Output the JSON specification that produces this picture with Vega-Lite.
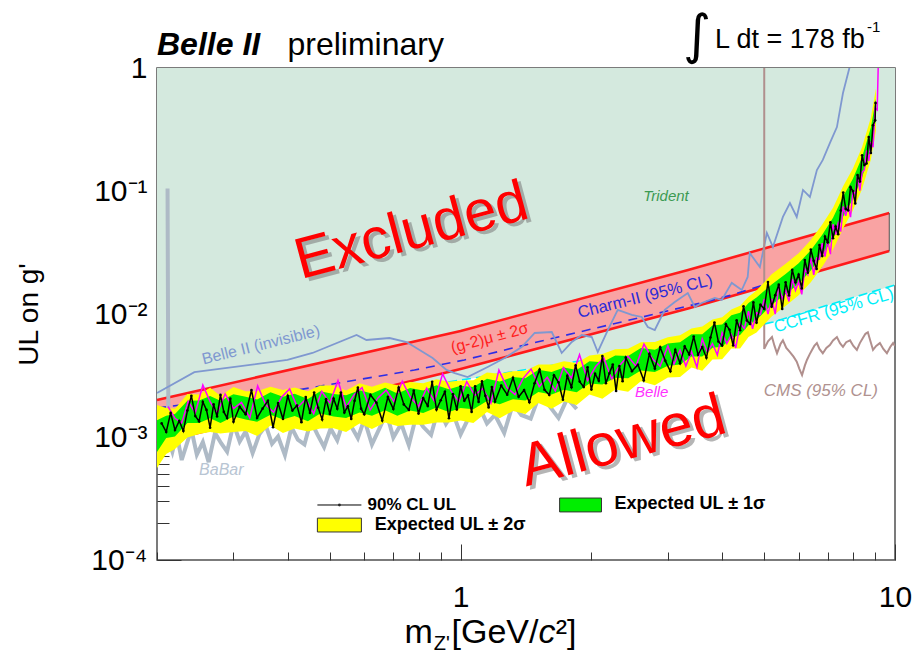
{
"$schema":"https://vega.github.io/schema/vega-lite/v6.json",
"width":738,"height":492,
"autosize":{"type":"none"},
"padding":{"left":157,"top":68,"right":27,"bottom":94},
"background":"#ffffff",
"config":{"view":{"stroke":"#505050","strokeWidth":1.5},"font":"Liberation Sans",
"axis":{"labelFont":"Liberation Sans","titleFont":"Liberation Sans","tickColor":"#333333","tickWidth":1,"labelColor":"#000000","titleColor":"#000000","domain":false,"grid":false,"labelOverlap":false,"labelBound":false},
"text":{"font":"Liberation Sans"}},
"data":{"values":[{}]},
"datasets":{
"ccfr":[{"m":0.2,"v":0.00132},{"m":0.27,"v":0.00146},{"m":0.5,"v":0.002},{"m":1,"v":0.0029},{"m":2,"v":0.0043},{"m":3.5,"v":0.0063},{"m":5.24,"v":0.0086},{"m":7,"v":0.0118},{"m":10,"v":0.0172}],
"charm":[{"m":0.2,"v":0.00172},{"m":0.421,"v":0.00241},{"m":0.783,"v":0.0035},{"m":1.02,"v":0.00423},{"m":1.5,"v":0.00592},{"m":2.56,"v":0.00927},{"m":3.65,"v":0.01253},{"m":4.21,"v":0.01427},{"m":7,"v":0.0252}],
"gm2":[{"m":0.2,"lo":0.000894,"hi":0.002},{"m":1.0,"lo":0.00357,"hi":0.00728},{"m":3.34,"lo":0.0111,"hi":0.0228},{"m":9.7,"lo":0.0325,"hi":0.0662}],
"b2inv":[{"m":0.2,"v":0.00228},{"m":0.2438,"v":0.00337},{"m":0.3993,"v":0.00423},{"m":0.456,"v":0.00482},{"m":0.576,"v":0.00675},{"m":0.607,"v":0.00615},{"m":0.686,"v":0.00638},{"m":0.751,"v":0.00592},{"m":0.862,"v":0.00439},{"m":0.928,"v":0.00351},{"m":0.969,"v":0.00331},{"m":1.038,"v":0.00307},{"m":1.154,"v":0.00371},{"m":1.263,"v":0.00439},{"m":1.382,"v":0.00539},{"m":1.481,"v":0.00701},{"m":1.621,"v":0.00714},{"m":1.709,"v":0.00482},{"m":1.803,"v":0.00592},{"m":1.9,"v":0.00675},{"m":2.004,"v":0.0065},{"m":2.069,"v":0.00491},{"m":2.182,"v":0.00741},{"m":2.3,"v":0.0108},{"m":2.478,"v":0.00982},{"m":2.612,"v":0.00946},{"m":2.697,"v":0.00784},{"m":2.799,"v":0.00741},{"m":2.951,"v":0.0108},{"m":3.112,"v":0.01253},{"m":3.334,"v":0.01482},{"m":3.459,"v":0.0114},{"m":3.591,"v":0.01228},{"m":3.847,"v":0.01349},{"m":3.992,"v":0.013},{"m":4.209,"v":0.0179},{"m":4.438,"v":0.01567},{"m":4.58,"v":0.02},{"m":4.63,"v":0.0313},{"m":4.886,"v":0.0241},{"m":5.07,"v":0.0456},{"m":5.235,"v":0.0351},{"m":5.52,"v":0.0615},{"m":5.73,"v":0.0798},{"m":5.94,"v":0.0615},{"m":6.14,"v":0.102},{"m":6.37,"v":0.0894},{"m":6.61,"v":0.148},{"m":6.82,"v":0.179},{"m":7.08,"v":0.245},{"m":7.35,"v":0.331},{"m":7.47,"v":0.456},{"m":7.59,"v":0.626},{"m":7.88,"v":1.05}],
"cms":[{"m":5.0,"v":1.0},{"m":5.0,"v":0.0052},{"m":5.1,"v":0.006},{"m":5.21,"v":0.0065},{"m":5.28,"v":0.0055},{"m":5.35,"v":0.0048},{"m":5.45,"v":0.0057},{"m":5.52,"v":0.0061},{"m":5.62,"v":0.0053},{"m":5.73,"v":0.0049},{"m":5.84,"v":0.0045},{"m":5.94,"v":0.0041},{"m":6.02,"v":0.0036},{"m":6.11,"v":0.00319},{"m":6.2,"v":0.0038},{"m":6.27,"v":0.00423},{"m":6.36,"v":0.0047},{"m":6.44,"v":0.0051},{"m":6.52,"v":0.0055},{"m":6.61,"v":0.0058},{"m":6.7,"v":0.0052},{"m":6.82,"v":0.0048},{"m":6.95,"v":0.0053},{"m":7.08,"v":0.0056},{"m":7.2,"v":0.0061},{"m":7.35,"v":0.0065},{"m":7.47,"v":0.0058},{"m":7.59,"v":0.0054},{"m":7.72,"v":0.0059},{"m":7.88,"v":0.0061},{"m":8.02,"v":0.0055},{"m":8.17,"v":0.0051},{"m":8.3,"v":0.0058},{"m":8.44,"v":0.0064},{"m":8.55,"v":0.0069},{"m":8.66,"v":0.0071},{"m":8.78,"v":0.006},{"m":8.9,"v":0.0051},{"m":9.05,"v":0.0055},{"m":9.23,"v":0.0058},{"m":9.4,"v":0.0052},{"m":9.58,"v":0.0048},{"m":9.75,"v":0.0054},{"m":9.9,"v":0.0058},{"m":10,"v":0.0055}],
"babar":[{"m":0.2115,"v":0.105},{"m":0.2125,"v":0.00095},{"m":0.217,"v":0.00076},{"m":0.222,"v":0.00106},{"m":0.228,"v":0.00065},{"m":0.234,"v":0.00087},{"m":0.24,"v":0.00115},{"m":0.247,"v":0.00072},{"m":0.255,"v":0.00091},{"m":0.263,"v":0.000625},{"m":0.272,"v":0.00108},{"m":0.281,"v":0.00089},{"m":0.29,"v":0.00076},{"m":0.3,"v":0.00128},{"m":0.31,"v":0.00092},{"m":0.32,"v":0.00111},{"m":0.332,"v":0.00074},{"m":0.344,"v":0.00105},{"m":0.356,"v":0.00124},{"m":0.368,"v":0.00088},{"m":0.38,"v":0.00101},{"m":0.394,"v":0.000713},{"m":0.408,"v":0.0012},{"m":0.422,"v":0.00095},{"m":0.437,"v":0.00087},{"m":0.452,"v":0.00135},{"m":0.468,"v":0.00105},{"m":0.485,"v":0.00083},{"m":0.502,"v":0.00117},{"m":0.52,"v":0.00094},{"m":0.54,"v":0.00143},{"m":0.56,"v":0.00122},{"m":0.58,"v":0.00098},{"m":0.6,"v":0.00139},{"m":0.625,"v":0.00087},{"m":0.65,"v":0.00117},{"m":0.675,"v":0.00157},{"m":0.7,"v":0.00099},{"m":0.73,"v":0.00128},{"m":0.76,"v":0.00086},{"m":0.79,"v":0.00148},{"m":0.82,"v":0.00121},{"m":0.855,"v":0.00104},{"m":0.89,"v":0.00174},{"m":0.925,"v":0.00128},{"m":0.96,"v":0.00157},{"m":1.0,"v":0.00105},{"m":1.05,"v":0.0015},{"m":1.1,"v":0.00181},{"m":1.15,"v":0.00129},{"m":1.2,"v":0.00151},{"m":1.26,"v":0.00108},{"m":1.32,"v":0.00187},{"m":1.38,"v":0.00151},{"m":1.45,"v":0.00141},{"m":1.52,"v":0.00222},{"m":1.6,"v":0.00179},{"m":1.68,"v":0.00143},{"m":1.76,"v":0.00206},{"m":1.85,"v":0.00169}],
"expected":[{"m":0.2,"lo2":0.00056,"lo1":0.000755,"hi1":0.00137,"hi2":0.00182},{"m":0.21,"lo2":0.000726,"lo1":0.00098,"hi1":0.00149,"hi2":0.00172},{"m":0.22,"lo2":0.0008,"lo1":0.00101,"hi1":0.00154,"hi2":0.0017},{"m":0.235,"lo2":0.00099,"lo1":0.0013,"hi1":0.00197,"hi2":0.00224},{"m":0.25,"lo2":0.00106,"lo1":0.0013,"hi1":0.00198,"hi2":0.00222},{"m":0.265,"lo2":0.0011,"lo1":0.00142,"hi1":0.00215,"hi2":0.00252},{"m":0.28,"lo2":0.00107,"lo1":0.0013,"hi1":0.00197,"hi2":0.00216},{"m":0.3,"lo2":0.0011,"lo1":0.00147,"hi1":0.00223,"hi2":0.00255},{"m":0.32,"lo2":0.00112,"lo1":0.00139,"hi1":0.00212,"hi2":0.00236},{"m":0.34,"lo2":0.00102,"lo1":0.00133,"hi1":0.00202,"hi2":0.00235},{"m":0.365,"lo2":0.00124,"lo1":0.00152,"hi1":0.00231,"hi2":0.00256},{"m":0.39,"lo2":0.00108,"lo1":0.00139,"hi1":0.00212,"hi2":0.00241},{"m":0.415,"lo2":0.00117,"lo1":0.00148,"hi1":0.00225,"hi2":0.00253},{"m":0.445,"lo2":0.00111,"lo1":0.00134,"hi1":0.00204,"hi2":0.00236},{"m":0.475,"lo2":0.00117,"lo1":0.00155,"hi1":0.00235,"hi2":0.00262},{"m":0.51,"lo2":0.00118,"lo1":0.00147,"hi1":0.00224,"hi2":0.00262},{"m":0.545,"lo2":0.0011,"lo1":0.00143,"hi1":0.00218,"hi2":0.00239},{"m":0.585,"lo2":0.00129,"lo1":0.00158,"hi1":0.0024,"hi2":0.00273},{"m":0.625,"lo2":0.00116,"lo1":0.00149,"hi1":0.00226,"hi2":0.00256},{"m":0.67,"lo2":0.00131,"lo1":0.00165,"hi1":0.00251,"hi2":0.00277},{"m":0.715,"lo2":0.00123,"lo1":0.00149,"hi1":0.00226,"hi2":0.00263},{"m":0.765,"lo2":0.00126,"lo1":0.00164,"hi1":0.0025,"hi2":0.0028},{"m":0.82,"lo2":0.00126,"lo1":0.00157,"hi1":0.00239,"hi2":0.00274},{"m":0.88,"lo2":0.00131,"lo1":0.00174,"hi1":0.00264,"hi2":0.00295},{"m":0.94,"lo2":0.00131,"lo1":0.0016,"hi1":0.00244,"hi2":0.00281},{"m":1.0,"lo2":0.00136,"lo1":0.00172,"hi1":0.00261,"hi2":0.00288},{"m":1.07,"lo2":0.0013,"lo1":0.00168,"hi1":0.00255,"hi2":0.0029},{"m":1.15,"lo2":0.0016,"lo1":0.00196,"hi1":0.00298,"hi2":0.00334},{"m":1.23,"lo2":0.00142,"lo1":0.00185,"hi1":0.00282,"hi2":0.00327},{"m":1.32,"lo2":0.00163,"lo1":0.00203,"hi1":0.00308,"hi2":0.00343},{"m":1.41,"lo2":0.00154,"lo1":0.00198,"hi1":0.00301,"hi2":0.00345},{"m":1.51,"lo2":0.00189,"lo1":0.00232,"hi1":0.00352,"hi2":0.00389},{"m":1.62,"lo2":0.0017,"lo1":0.00222,"hi1":0.00337,"hi2":0.00389},{"m":1.73,"lo2":0.00194,"lo1":0.00242,"hi1":0.00368,"hi2":0.00413},{"m":1.85,"lo2":0.00182,"lo1":0.00231,"hi1":0.00351,"hi2":0.00399},{"m":1.98,"lo2":0.00222,"lo1":0.00272,"hi1":0.00413,"hi2":0.0046},{"m":2.12,"lo2":0.00205,"lo1":0.00267,"hi1":0.00406,"hi2":0.00472},{"m":2.27,"lo2":0.00243,"lo1":0.00303,"hi1":0.0046,"hi2":0.00516},{"m":2.43,"lo2":0.00233,"lo1":0.003,"hi1":0.00455,"hi2":0.00522},{"m":2.6,"lo2":0.00284,"lo1":0.00348,"hi1":0.00529,"hi2":0.00589},{"m":2.8,"lo2":0.00263,"lo1":0.00338,"hi1":0.00513,"hi2":0.00592},{"m":3.0,"lo2":0.00304,"lo1":0.00379,"hi1":0.00576,"hi2":0.00646},{"m":3.2,"lo2":0.00307,"lo1":0.00389,"hi1":0.0059,"hi2":0.00672},{"m":3.4,"lo2":0.00368,"lo1":0.00451,"hi1":0.00685,"hi2":0.00763},{"m":3.6,"lo2":0.00345,"lo1":0.00451,"hi1":0.00685,"hi2":0.00791},{"m":3.8,"lo2":0.00426,"lo1":0.00531,"hi1":0.00806,"hi2":0.00904},{"m":4.0,"lo2":0.00428,"lo1":0.00542,"hi1":0.00823,"hi2":0.00943},{"m":4.2,"lo2":0.00523,"lo1":0.00642,"hi1":0.00975,"hi2":0.01086},{"m":4.4,"lo2":0.00525,"lo1":0.00676,"hi1":0.01026,"hi2":0.01168},{"m":4.6,"lo2":0.00649,"lo1":0.00809,"hi1":0.01229,"hi2":0.01379},{"m":4.8,"lo2":0.00708,"lo1":0.00897,"hi1":0.01362,"hi2":0.0155},{"m":5.2,"lo2":0.00956,"lo1":0.01188,"hi1":0.01739,"hi2":0.02101},{"m":5.6,"lo2":0.01164,"lo1":0.01446,"hi1":0.02117,"hi2":0.02558},{"m":6.0,"lo2":0.01421,"lo1":0.01765,"hi1":0.02584,"hi2":0.03122},{"m":6.4,"lo2":0.01816,"lo1":0.02256,"hi1":0.03301,"hi2":0.03989},{"m":6.8,"lo2":0.02426,"lo1":0.03014,"hi1":0.0441,"hi2":0.05329},{"m":7.2,"lo2":0.03326,"lo1":0.04133,"hi1":0.06048,"hi2":0.07308},{"m":7.6,"lo2":0.0499,"lo1":0.062,"hi1":0.0907,"hi2":0.1096},{"m":8.0,"lo2":0.0693,"lo1":0.0861,"hi1":0.126,"hi2":0.1523},{"m":8.4,"lo2":0.104,"lo1":0.129,"hi1":0.189,"hi2":0.228},{"m":8.8,"lo2":0.18,"lo1":0.224,"hi1":0.328,"hi2":0.396},{"m":9.04,"lo2":0.31,"lo1":0.385,"hi1":0.564,"hi2":0.68}],
"belle":[{"m":0.212,"v":0.00177},{"m":0.22,"v":0.00142},{"m":0.228,"v":0.0013},{"m":0.236,"v":0.00195},{"m":0.245,"v":0.00157},{"m":0.255,"v":0.00265},{"m":0.265,"v":0.00194},{"m":0.275,"v":0.00156},{"m":0.287,"v":0.00224},{"m":0.3,"v":0.0017},{"m":0.313,"v":0.00191},{"m":0.327,"v":0.00143},{"m":0.341,"v":0.0026},{"m":0.356,"v":0.00183},{"m":0.371,"v":0.00159},{"m":0.387,"v":0.00211},{"m":0.404,"v":0.00246},{"m":0.421,"v":0.00174},{"m":0.44,"v":0.00203},{"m":0.459,"v":0.00155},{"m":0.479,"v":0.00235},{"m":0.5,"v":0.00189},{"m":0.522,"v":0.00287},{"m":0.545,"v":0.00175},{"m":0.568,"v":0.0022},{"m":0.593,"v":0.00252},{"m":0.619,"v":0.00166},{"m":0.646,"v":0.00209},{"m":0.674,"v":0.0024},{"m":0.703,"v":0.00193},{"m":0.734,"v":0.00284},{"m":0.766,"v":0.00211},{"m":0.8,"v":0.00177},{"m":0.835,"v":0.0025},{"m":0.871,"v":0.00195},{"m":0.909,"v":0.00326},{"m":0.949,"v":0.00239},{"m":0.99,"v":0.00194},{"m":1.033,"v":0.00282},{"m":1.078,"v":0.00218},{"m":1.125,"v":0.00248},{"m":1.174,"v":0.00188},{"m":1.225,"v":0.0035},{"m":1.279,"v":0.00252},{"m":1.334,"v":0.00221},{"m":1.393,"v":0.003},{"m":1.453,"v":0.00357},{"m":1.517,"v":0.00257},{"m":1.583,"v":0.00306},{"m":1.652,"v":0.00237},{"m":1.724,"v":0.00367},{"m":1.8,"v":0.00301},{"m":1.878,"v":0.00467},{"m":1.96,"v":0.00289},{"m":2.046,"v":0.00374},{"m":2.135,"v":0.00441},{"m":2.228,"v":0.00296},{"m":2.325,"v":0.00384},{"m":2.427,"v":0.00454},{"m":2.533,"v":0.00377},{"m":2.643,"v":0.00569},{"m":2.758,"v":0.00437},{"m":2.879,"v":0.00376},{"m":3.0,"v":0.0055},{"m":3.1,"v":0.00392},{"m":3.2,"v":0.00507},{"m":3.3,"v":0.00377},{"m":3.4,"v":0.00494},{"m":3.5,"v":0.00369},{"m":3.6,"v":0.00627},{"m":3.7,"v":0.00489},{"m":3.8,"v":0.00575},{"m":3.9,"v":0.00464},{"m":4.0,"v":0.00706},{"m":4.1,"v":0.00575},{"m":4.2,"v":0.00679},{"m":4.3,"v":0.0053},{"m":4.4,"v":0.0084},{"m":4.5,"v":0.0076},{"m":4.6,"v":0.01054},{"m":4.7,"v":0.00756},{"m":4.8,"v":0.01021},{"m":4.9,"v":0.0099},{"m":5.0,"v":0.01326},{"m":5.1,"v":0.01},{"m":5.2,"v":0.01329},{"m":5.3,"v":0.00998},{"m":5.4,"v":0.01701},{"m":5.5,"v":0.01326},{"m":5.6,"v":0.01559},{"m":5.7,"v":0.01264},{"m":5.8,"v":0.01931},{"m":5.9,"v":0.01558},{"m":6.0,"v":0.01833},{"m":6.1,"v":0.01443},{"m":6.2,"v":0.0232},{"m":6.3,"v":0.02087},{"m":6.4,"v":0.02877},{"m":6.5,"v":0.02082},{"m":6.6,"v":0.02854},{"m":6.7,"v":0.02798},{"m":6.8,"v":0.03773},{"m":6.9,"v":0.02922},{"m":7.0,"v":0.03968},{"m":7.1,"v":0.03062},{"m":7.2,"v":0.05371},{"m":7.3,"v":0.04419},{"m":7.4,"v":0.05475},{"m":7.5,"v":0.04677},{"m":7.6,"v":0.07474},{"m":7.7,"v":0.06272},{"m":7.8,"v":0.07644},{"m":7.9,"v":0.06124},{"m":8.0,"v":0.1},{"m":8.1,"v":0.0938},{"m":8.2,"v":0.135},{"m":8.3,"v":0.1008},{"m":8.4,"v":0.1418},{"m":8.5,"v":0.1481},{"m":8.6,"v":0.2134},{"m":8.7,"v":0.1753},{"m":8.8,"v":0.2504},{"m":8.9,"v":0.227},{"m":9.0,"v":0.47},{"m":9.1,"v":0.456},{"m":9.15,"v":1.05}],
"observed":[{"m":0.205,"v":0.00129},{"m":0.21,"v":0.0011},{"m":0.215,"v":0.00157},{"m":0.22,"v":0.00114},{"m":0.225,"v":0.00135},{"m":0.23,"v":0.00112},{"m":0.235,"v":0.00164},{"m":0.24,"v":0.00216},{"m":0.245,"v":0.00148},{"m":0.25,"v":0.00134},{"m":0.255,"v":0.00193},{"m":0.26,"v":0.00166},{"m":0.265,"v":0.00119},{"m":0.27,"v":0.00184},{"m":0.275,"v":0.00147},{"m":0.28,"v":0.0022},{"m":0.285,"v":0.0016},{"m":0.29,"v":0.00143},{"m":0.295,"v":0.00205},{"m":0.3,"v":0.00133},{"m":0.31,"v":0.00176},{"m":0.32,"v":0.00153},{"m":0.33,"v":0.00241},{"m":0.34,"v":0.00143},{"m":0.35,"v":0.0017},{"m":0.36,"v":0.00197},{"m":0.37,"v":0.0012},{"m":0.38,"v":0.00189},{"m":0.39,"v":0.0014},{"m":0.4,"v":0.00216},{"m":0.41,"v":0.00164},{"m":0.42,"v":0.0018},{"m":0.43,"v":0.00132},{"m":0.44,"v":0.00211},{"m":0.45,"v":0.00157},{"m":0.46,"v":0.0023},{"m":0.47,"v":0.00173},{"m":0.48,"v":0.00139},{"m":0.49,"v":0.00203},{"m":0.5,"v":0.00154},{"m":0.51,"v":0.00205},{"m":0.52,"v":0.0017},{"m":0.53,"v":0.0023},{"m":0.54,"v":0.00158},{"m":0.55,"v":0.00178},{"m":0.56,"v":0.0014},{"m":0.57,"v":0.00197},{"m":0.58,"v":0.00252},{"m":0.59,"v":0.0017},{"m":0.6,"v":0.00153},{"m":0.62,"v":0.0022},{"m":0.64,"v":0.0019},{"m":0.66,"v":0.00136},{"m":0.68,"v":0.00211},{"m":0.7,"v":0.00169},{"m":0.72,"v":0.00252},{"m":0.74,"v":0.00184},{"m":0.76,"v":0.00166},{"m":0.78,"v":0.00238},{"m":0.8,"v":0.00155},{"m":0.82,"v":0.00207},{"m":0.84,"v":0.00179},{"m":0.86,"v":0.00281},{"m":0.88,"v":0.00167},{"m":0.9,"v":0.00199},{"m":0.92,"v":0.00233},{"m":0.94,"v":0.00142},{"m":0.96,"v":0.00223},{"m":0.98,"v":0.00167},{"m":1.0,"v":0.00258},{"m":1.02,"v":0.00197},{"m":1.04,"v":0.00218},{"m":1.06,"v":0.0016},{"m":1.08,"v":0.00258},{"m":1.1,"v":0.00193},{"m":1.12,"v":0.00283},{"m":1.14,"v":0.00216},{"m":1.16,"v":0.00174},{"m":1.18,"v":0.00255},{"m":1.2,"v":0.00194},{"m":1.24,"v":0.00262},{"m":1.28,"v":0.00221},{"m":1.32,"v":0.00303},{"m":1.36,"v":0.00212},{"m":1.4,"v":0.00241},{"m":1.44,"v":0.00192},{"m":1.48,"v":0.00273},{"m":1.52,"v":0.00353},{"m":1.56,"v":0.00242},{"m":1.6,"v":0.0022},{"m":1.64,"v":0.00318},{"m":1.68,"v":0.00278},{"m":1.72,"v":0.00201},{"m":1.76,"v":0.00314},{"m":1.8,"v":0.00254},{"m":1.84,"v":0.00382},{"m":1.88,"v":0.00282},{"m":1.92,"v":0.00255},{"m":1.96,"v":0.00369},{"m":2.0,"v":0.00243},{"m":2.04,"v":0.00327},{"m":2.08,"v":0.00286},{"m":2.12,"v":0.00455},{"m":2.16,"v":0.00274},{"m":2.2,"v":0.00329},{"m":2.24,"v":0.00388},{"m":2.28,"v":0.00237},{"m":2.32,"v":0.00377},{"m":2.36,"v":0.00284},{"m":2.4,"v":0.00442},{"m":2.48,"v":0.00343},{"m":2.56,"v":0.00387},{"m":2.64,"v":0.00289},{"m":2.72,"v":0.00474},{"m":2.8,"v":0.0036},{"m":2.88,"v":0.00536},{"m":2.96,"v":0.00416},{"m":3.04,"v":0.00342},{"m":3.12,"v":0.00511},{"m":3.2,"v":0.00397},{"m":3.28,"v":0.00545},{"m":3.36,"v":0.00469},{"m":3.44,"v":0.00655},{"m":3.52,"v":0.00466},{"m":3.6,"v":0.00539},{"m":3.68,"v":0.00441},{"m":3.76,"v":0.00643},{"m":3.84,"v":0.00853},{"m":3.92,"v":0.00598},{"m":4.0,"v":0.00554},{"m":4.08,"v":0.00827},{"m":4.16,"v":0.00744},{"m":4.24,"v":0.00554},{"m":4.32,"v":0.00887},{"m":4.4,"v":0.00737},{"m":4.48,"v":0.01154},{"m":4.56,"v":0.00885},{"m":4.64,"v":0.00831},{"m":4.72,"v":0.01242},{"m":4.8,"v":0.00847},{"m":4.9,"v":0.0119},{"m":5.0,"v":0.011},{"m":5.1,"v":0.0182},{"m":5.2,"v":0.01144},{"m":5.3,"v":0.01422},{"m":5.4,"v":0.01733},{"m":5.5,"v":0.011},{"m":5.6,"v":0.01811},{"m":5.7,"v":0.01414},{"m":5.8,"v":0.02286},{"m":5.9,"v":0.0181},{"m":6.0,"v":0.02089},{"m":6.1,"v":0.01615},{"m":6.2,"v":0.02747},{"m":6.3,"v":0.02166},{"m":6.4,"v":0.03343},{"m":6.5,"v":0.02706},{"m":6.6,"v":0.02322},{"m":6.7,"v":0.03637},{"m":6.8,"v":0.02958},{"m":6.9,"v":0.04252},{"m":7.0,"v":0.03823},{"m":7.1,"v":0.05571},{"m":7.2,"v":0.04133},{"m":7.3,"v":0.05133},{"m":7.4,"v":0.04455},{"m":7.5,"v":0.0693},{"m":7.6,"v":0.09713},{"m":7.7,"v":0.07151},{"m":7.8,"v":0.0696},{"m":7.9,"v":0.1075},{"m":8.0,"v":0.1},{"m":8.1,"v":0.0793},{"m":8.2,"v":0.135},{"m":8.3,"v":0.1193},{"m":8.4,"v":0.195},{"m":8.5,"v":0.1625},{"m":8.6,"v":0.1673},{"m":8.7,"v":0.275},{"m":8.8,"v":0.2038},{"m":8.9,"v":0.3425},{"m":9.0,"v":0.3755},{"m":9.02,"v":0.52}]
},
"resolve":{"axis":{"x":"independent","y":"independent"}},
"layer":[
{"data":{"name":"ccfr"},"mark":{"type":"area","color":"#d4e9de"},
 "encoding":{"x":{"field":"m","type":"quantitative","scale":{"type":"log","domain":[0.2,10],"nice":false},
   "axis":{"orient":"bottom","values":[1,10],"tickSize":-16,"labelExpr":"datum.value == 1 ? '1' : '10'","labelFontSize":30,"labelPadding":38,"labelFlush":false,"title":null}},
  "y":{"field":"v","type":"quantitative","scale":{"type":"log","domain":[0.0001,1],"nice":false},
   "axis":{"orient":"left","values":[0.0001,0.001,0.01,0.1,1],"tickSize":-24,"labelExpr":"datum.value >= 0.9 ? '1' : datum.value >= 0.09 ? '10⁻¹' : datum.value >= 0.009 ? '10⁻²' : datum.value >= 0.0009 ? '10⁻³' : '10⁻⁴'","labelFontSize":30,"labelPadding":34,"labelFlush":false,"labelBaseline":"middle","title":"UL on g'","titleFontSize":28,"titleFontWeight":"normal","titleX":-120,"titleY":246,"titleAngle":-90,"titleAlign":"center","titleBaseline":"alphabetic"}},
  "y2":{"datum":1}}},
{"data":{"name":"gm2"},"mark":{"type":"area","color":"#f9a3a3"},
 "encoding":{"x":{"field":"m","type":"quantitative","scale":{"type":"log","domain":[0.2,10],"nice":false},"axis":null},
  "y":{"field":"lo","type":"quantitative","scale":{"type":"log","domain":[0.0001,1],"nice":false},"axis":null},"y2":{"field":"hi"}}},
{"data":{"name":"gm2"},"mark":{"type":"line","color":"#ff1a1a","strokeWidth":2.6},
 "encoding":{"x":{"field":"m","type":"quantitative","scale":{"type":"log","domain":[0.2,10],"nice":false},"axis":null},
  "y":{"field":"hi","type":"quantitative","scale":{"type":"log","domain":[0.0001,1],"nice":false},"axis":null}}},
{"data":{"name":"gm2"},"mark":{"type":"line","color":"#ff1a1a","strokeWidth":2.6},
 "encoding":{"x":{"field":"m","type":"quantitative","scale":{"type":"log","domain":[0.2,10],"nice":false},"axis":null},
  "y":{"field":"lo","type":"quantitative","scale":{"type":"log","domain":[0.0001,1],"nice":false},"axis":null}}},
{"mark":{"type":"rule","color":"#555555","strokeWidth":1},
 "encoding":{"x":{"datum":9.7,"type":"quantitative","scale":{"type":"log","domain":[0.2,10],"nice":false},"axis":null},
  "y":{"datum":0.0325,"type":"quantitative","scale":{"type":"log","domain":[0.0001,1],"nice":false},"axis":null},"y2":{"datum":0.0662}}},
{"data":{"name":"charm"},"mark":{"type":"line","color":"#2d2de6","strokeWidth":1.6,"strokeDash":[9,7]},
 "encoding":{"x":{"field":"m","type":"quantitative","scale":{"type":"log","domain":[0.2,10],"nice":false},"axis":null},
  "y":{"field":"v","type":"quantitative","scale":{"type":"log","domain":[0.0001,1],"nice":false},"axis":null}}},
{"data":{"name":"ccfr"},"mark":{"type":"line","color":"#00eef8","strokeWidth":1.6,"strokeDash":[9,5]},
 "encoding":{"x":{"field":"m","type":"quantitative","scale":{"type":"log","domain":[0.2,10],"nice":false},
   "axis":{"orient":"bottom","values":[0.2,0.3,0.4,0.5,0.6,0.7,0.8,0.9,2,3,4,5,6,7,8,9],"tickSize":-8,"labels":false,"title":null}},
  "y":{"field":"v","type":"quantitative","scale":{"type":"log","domain":[0.0001,1],"nice":false},
   "axis":{"orient":"left","values":[0.0002,0.0003,0.0004,0.0005,0.0006,0.0007,0.0008,0.0009,0.002,0.003,0.004,0.005,0.006,0.007,0.008,0.009,0.02,0.03,0.04,0.05,0.06,0.07,0.08,0.09,0.2,0.3,0.4,0.5,0.6,0.7,0.8,0.9],"tickSize":-12,"labels":false,"title":null}}}},
{"data":{"name":"babar"},"mark":{"type":"line","color":"#aebac6","strokeWidth":4,"strokeJoin":"miter"},
 "encoding":{"x":{"field":"m","type":"quantitative","scale":{"type":"log","domain":[0.2,10],"nice":false},"axis":null},
  "y":{"field":"v","type":"quantitative","scale":{"type":"log","domain":[0.0001,1],"nice":false},"axis":null},"order":{"value":null}}},
{"data":{"name":"b2inv"},"mark":{"type":"line","color":"#7f98d0","strokeWidth":1.8,"clip":true},
 "encoding":{"x":{"field":"m","type":"quantitative","scale":{"type":"log","domain":[0.2,10],"nice":false},"axis":null},
  "y":{"field":"v","type":"quantitative","scale":{"type":"log","domain":[0.0001,1],"nice":false},"axis":null},"order":{"value":null}}},
{"data":{"name":"cms"},"mark":{"type":"line","color":"#b08f8d","strokeWidth":2,"clip":true},
 "encoding":{"x":{"field":"m","type":"quantitative","scale":{"type":"log","domain":[0.2,10],"nice":false},"axis":null},
  "y":{"field":"v","type":"quantitative","scale":{"type":"log","domain":[0.0001,1],"nice":false},"axis":null},"order":{"value":null}}},
{"data":{"name":"expected"},"mark":{"type":"area","color":"#ffff00"},
 "encoding":{"x":{"field":"m","type":"quantitative","scale":{"type":"log","domain":[0.2,10],"nice":false},"axis":null},
  "y":{"field":"lo2","type":"quantitative","scale":{"type":"log","domain":[0.0001,1],"nice":false},"axis":null},"y2":{"field":"hi2"}}},
{"data":{"name":"expected"},"mark":{"type":"area","color":"#00f000"},
 "encoding":{"x":{"field":"m","type":"quantitative","scale":{"type":"log","domain":[0.2,10],"nice":false},"axis":null},
  "y":{"field":"lo1","type":"quantitative","scale":{"type":"log","domain":[0.0001,1],"nice":false},"axis":null},"y2":{"field":"hi1"}}},
{"data":{"name":"belle"},"mark":{"type":"line","color":"#ff00ff","strokeWidth":1.5,"clip":true},
 "encoding":{"x":{"field":"m","type":"quantitative","scale":{"type":"log","domain":[0.2,10],"nice":false},"axis":null},
  "y":{"field":"v","type":"quantitative","scale":{"type":"log","domain":[0.0001,1],"nice":false},"axis":null},"order":{"value":null}}},
{"data":{"name":"observed"},"mark":{"type":"line","color":"#000000","strokeWidth":1.5,"clip":true},
 "encoding":{"x":{"field":"m","type":"quantitative","scale":{"type":"log","domain":[0.2,10],"nice":false},"axis":null},
  "y":{"field":"v","type":"quantitative","scale":{"type":"log","domain":[0.0001,1],"nice":false},"axis":null},"order":{"value":null}}},
{"data":{"name":"observed"},"mark":{"type":"point","filled":true,"size":7,"color":"#000000","opacity":1,"clip":true},
 "encoding":{"x":{"field":"m","type":"quantitative","scale":{"type":"log","domain":[0.2,10],"nice":false},"axis":null},
  "y":{"field":"v","type":"quantitative","scale":{"type":"log","domain":[0.0001,1],"nice":false},"axis":null}}},

{"mark":{"type":"text","text":"Belle II","fontSize":32,"fontWeight":"bold","fontStyle":"italic","align":"left","baseline":"alphabetic","color":"#000000"},
 "encoding":{"x":{"datum":0.2,"type":"quantitative","scale":{"type":"log","domain":[0.2,10],"nice":false},"axis":null},"y":{"datum":1.275,"type":"quantitative","scale":{"type":"log","domain":[0.0001,1],"nice":false},"axis":null}}},
{"mark":{"type":"text","text":"preliminary","fontSize":32,"align":"left","baseline":"alphabetic","color":"#000000"},
 "encoding":{"x":{"datum":0.3993,"type":"quantitative","scale":{"type":"log","domain":[0.2,10],"nice":false},"axis":null},"y":{"datum":1.275,"type":"quantitative","scale":{"type":"log","domain":[0.0001,1],"nice":false},"axis":null}}},
{"mark":{"type":"text","text":"∫","fontSize":54,"font":"DejaVu Sans","align":"center","baseline":"middle","color":"#000000"},
 "encoding":{"x":{"datum":3.5,"type":"quantitative","scale":{"type":"log","domain":[0.2,10],"nice":false},"axis":null},"y":{"datum":1.787,"type":"quantitative","scale":{"type":"log","domain":[0.0001,1],"nice":false},"axis":null}}},
{"mark":{"type":"text","text":"L dt = 178 fb","fontSize":27,"align":"left","baseline":"alphabetic","color":"#000000"},
 "encoding":{"x":{"datum":3.85,"type":"quantitative","scale":{"type":"log","domain":[0.2,10],"nice":false},"axis":null},"y":{"datum":1.454,"type":"quantitative","scale":{"type":"log","domain":[0.0001,1],"nice":false},"axis":null}}},
{"mark":{"type":"text","text":"-1","fontSize":15,"align":"left","baseline":"alphabetic","color":"#000000"},
 "encoding":{"x":{"datum":8.62,"type":"quantitative","scale":{"type":"log","domain":[0.2,10],"nice":false},"axis":null},"y":{"datum":1.962,"type":"quantitative","scale":{"type":"log","domain":[0.0001,1],"nice":false},"axis":null}}},

{"mark":{"type":"text","text":"Excluded","fontSize":58,"angle":-15,"align":"center","baseline":"middle","color":"#7a7a7a","opacity":0.55,"dx":3,"dy":4},
 "encoding":{"x":{"datum":0.771,"type":"quantitative","scale":{"type":"log","domain":[0.2,10],"nice":false},"axis":null},"y":{"datum":0.0464,"type":"quantitative","scale":{"type":"log","domain":[0.0001,1],"nice":false},"axis":null}}},
{"mark":{"type":"text","text":"Excluded","fontSize":58,"angle":-15,"align":"center","baseline":"middle","color":"#ff0000"},
 "encoding":{"x":{"datum":0.771,"type":"quantitative","scale":{"type":"log","domain":[0.2,10],"nice":false},"axis":null},"y":{"datum":0.0464,"type":"quantitative","scale":{"type":"log","domain":[0.0001,1],"nice":false},"axis":null}}},
{"mark":{"type":"text","text":"Allowed","fontSize":60,"angle":-15,"align":"center","baseline":"middle","color":"#7a7a7a","opacity":0.55,"dx":3,"dy":4},
 "encoding":{"x":{"datum":2.362,"type":"quantitative","scale":{"type":"log","domain":[0.2,10],"nice":false},"axis":null},"y":{"datum":0.00091,"type":"quantitative","scale":{"type":"log","domain":[0.0001,1],"nice":false},"axis":null}}},
{"mark":{"type":"text","text":"Allowed","fontSize":60,"angle":-15,"align":"center","baseline":"middle","color":"#ff0000"},
 "encoding":{"x":{"datum":2.362,"type":"quantitative","scale":{"type":"log","domain":[0.2,10],"nice":false},"axis":null},"y":{"datum":0.00091,"type":"quantitative","scale":{"type":"log","domain":[0.0001,1],"nice":false},"axis":null}}},
{"mark":{"type":"text","text":"Trident","fontSize":15,"fontStyle":"italic","align":"center","baseline":"middle","color":"#3c9a52"},
 "encoding":{"x":{"datum":2.97,"type":"quantitative","scale":{"type":"log","domain":[0.2,10],"nice":false},"axis":null},"y":{"datum":0.091,"type":"quantitative","scale":{"type":"log","domain":[0.0001,1],"nice":false},"axis":null}}},
{"mark":{"type":"text","text":"Belle II (invisible)","fontSize":16,"angle":-14,"align":"center","baseline":"middle","color":"#7f98d0"},
 "encoding":{"x":{"datum":0.347,"type":"quantitative","scale":{"type":"log","domain":[0.2,10],"nice":false},"axis":null},"y":{"datum":0.0056,"type":"quantitative","scale":{"type":"log","domain":[0.0001,1],"nice":false},"axis":null}}},
{"mark":{"type":"text","text":"(g-2)μ ± 2σ","fontSize":16,"angle":-15,"align":"center","baseline":"middle","color":"#ff2020"},
 "encoding":{"x":{"datum":1.166,"type":"quantitative","scale":{"type":"log","domain":[0.2,10],"nice":false},"axis":null},"y":{"datum":0.00638,"type":"quantitative","scale":{"type":"log","domain":[0.0001,1],"nice":false},"axis":null}}},
{"mark":{"type":"text","text":"Charm-II (95% CL)","fontSize":16.5,"angle":-14,"align":"center","baseline":"middle","color":"#2a2ad8"},
 "encoding":{"x":{"datum":2.66,"type":"quantitative","scale":{"type":"log","domain":[0.2,10],"nice":false},"axis":null},"y":{"datum":0.01387,"type":"quantitative","scale":{"type":"log","domain":[0.0001,1],"nice":false},"axis":null}}},
{"mark":{"type":"text","text":"CCFR (95% CL)","fontSize":17,"angle":-16,"align":"center","baseline":"middle","color":"#00eef8"},
 "encoding":{"x":{"datum":7.23,"type":"quantitative","scale":{"type":"log","domain":[0.2,10],"nice":false},"axis":null},"y":{"datum":0.01067,"type":"quantitative","scale":{"type":"log","domain":[0.0001,1],"nice":false},"axis":null}}},
{"mark":{"type":"text","text":"CMS (95% CL)","fontSize":17,"fontStyle":"italic","align":"center","baseline":"middle","color":"#b09290"},
 "encoding":{"x":{"datum":6.75,"type":"quantitative","scale":{"type":"log","domain":[0.2,10],"nice":false},"axis":null},"y":{"datum":0.00237,"type":"quantitative","scale":{"type":"log","domain":[0.0001,1],"nice":false},"axis":null}}},
{"mark":{"type":"text","text":"Belle","fontSize":15,"fontStyle":"italic","align":"center","baseline":"middle","color":"#ff30ff"},
 "encoding":{"x":{"datum":2.754,"type":"quantitative","scale":{"type":"log","domain":[0.2,10],"nice":false},"axis":null},"y":{"datum":0.00234,"type":"quantitative","scale":{"type":"log","domain":[0.0001,1],"nice":false},"axis":null}}},
{"mark":{"type":"text","text":"BaBar","fontSize":16,"fontStyle":"italic","align":"center","baseline":"middle","color":"#b8c5d3"},
 "encoding":{"x":{"datum":0.2813,"type":"quantitative","scale":{"type":"log","domain":[0.2,10],"nice":false},"axis":null},"y":{"datum":0.00054,"type":"quantitative","scale":{"type":"log","domain":[0.0001,1],"nice":false},"axis":null}}},

{"mark":{"type":"text","text":"m","fontSize":34,"align":"left","baseline":"alphabetic","color":"#000000"},
 "encoding":{"x":{"datum":0.743,"type":"quantitative","scale":{"type":"log","domain":[0.2,10],"nice":false},"axis":null},"y":{"datum":0.0000211,"type":"quantitative","scale":{"type":"log","domain":[0.0001,1],"nice":false},"axis":null}}},
{"mark":{"type":"text","text":"Z'","fontSize":20,"align":"left","baseline":"alphabetic","color":"#000000"},
 "encoding":{"x":{"datum":0.867,"type":"quantitative","scale":{"type":"log","domain":[0.2,10],"nice":false},"axis":null},"y":{"datum":0.0000185,"type":"quantitative","scale":{"type":"log","domain":[0.0001,1],"nice":false},"axis":null}}},
{"mark":{"type":"text","text":"[GeV/","fontSize":34,"align":"left","baseline":"alphabetic","color":"#000000"},
 "encoding":{"x":{"datum":0.953,"type":"quantitative","scale":{"type":"log","domain":[0.2,10],"nice":false},"axis":null},"y":{"datum":0.0000211,"type":"quantitative","scale":{"type":"log","domain":[0.0001,1],"nice":false},"axis":null}}},
{"mark":{"type":"text","text":"c","fontSize":34,"fontStyle":"italic","align":"left","baseline":"alphabetic","color":"#000000"},
 "encoding":{"x":{"datum":1.512,"type":"quantitative","scale":{"type":"log","domain":[0.2,10],"nice":false},"axis":null},"y":{"datum":0.0000211,"type":"quantitative","scale":{"type":"log","domain":[0.0001,1],"nice":false},"axis":null}}},
{"mark":{"type":"text","text":"²]","fontSize":34,"align":"left","baseline":"alphabetic","color":"#000000"},
 "encoding":{"x":{"datum":1.655,"type":"quantitative","scale":{"type":"log","domain":[0.2,10],"nice":false},"axis":null},"y":{"datum":0.0000211,"type":"quantitative","scale":{"type":"log","domain":[0.0001,1],"nice":false},"axis":null}}},

{"mark":{"type":"rule","color":"#000000","strokeWidth":1},
 "encoding":{"x":{"datum":0.468,"type":"quantitative","scale":{"type":"log","domain":[0.2,10],"nice":false},"axis":null},"x2":{"datum":0.591},
  "y":{"datum":0.00028,"type":"quantitative","scale":{"type":"log","domain":[0.0001,1],"nice":false},"axis":null}}},
{"mark":{"type":"point","filled":true,"size":8,"color":"#000000"},
 "encoding":{"x":{"datum":0.526,"type":"quantitative","scale":{"type":"log","domain":[0.2,10],"nice":false},"axis":null},
  "y":{"datum":0.00028,"type":"quantitative","scale":{"type":"log","domain":[0.0001,1],"nice":false},"axis":null}}},
{"mark":{"type":"rect","fill":"#ffff00","stroke":"#333333","strokeWidth":1},
 "encoding":{"x":{"datum":0.468,"type":"quantitative","scale":{"type":"log","domain":[0.2,10],"nice":false},"axis":null},"x2":{"datum":0.591},
  "y":{"datum":0.000219,"type":"quantitative","scale":{"type":"log","domain":[0.0001,1],"nice":false},"axis":null},"y2":{"datum":0.000169}}},
{"mark":{"type":"rect","fill":"#00ee00","stroke":"#333333","strokeWidth":1},
 "encoding":{"x":{"datum":1.69,"type":"quantitative","scale":{"type":"log","domain":[0.2,10],"nice":false},"axis":null},"x2":{"datum":2.11},
  "y":{"datum":0.000319,"type":"quantitative","scale":{"type":"log","domain":[0.0001,1],"nice":false},"axis":null},"y2":{"datum":0.000246}}},
{"mark":{"type":"text","text":"90% CL UL","fontSize":17,"fontWeight":"bold","align":"left","baseline":"middle","color":"#000000"},
 "encoding":{"x":{"datum":0.6105,"type":"quantitative","scale":{"type":"log","domain":[0.2,10],"nice":false},"axis":null},"y":{"datum":0.00028,"type":"quantitative","scale":{"type":"log","domain":[0.0001,1],"nice":false},"axis":null}}},
{"mark":{"type":"text","text":"Expected UL ± 2σ","fontSize":18,"fontWeight":"bold","align":"left","baseline":"middle","color":"#000000"},
 "encoding":{"x":{"datum":0.634,"type":"quantitative","scale":{"type":"log","domain":[0.2,10],"nice":false},"axis":null},"y":{"datum":0.000193,"type":"quantitative","scale":{"type":"log","domain":[0.0001,1],"nice":false},"axis":null}}},
{"mark":{"type":"text","text":"Expected UL ± 1σ","fontSize":18,"fontWeight":"bold","align":"left","baseline":"middle","color":"#000000"},
 "encoding":{"x":{"datum":2.26,"type":"quantitative","scale":{"type":"log","domain":[0.2,10],"nice":false},"axis":null},"y":{"datum":0.000285,"type":"quantitative","scale":{"type":"log","domain":[0.0001,1],"nice":false},"axis":null}}}
]
}
